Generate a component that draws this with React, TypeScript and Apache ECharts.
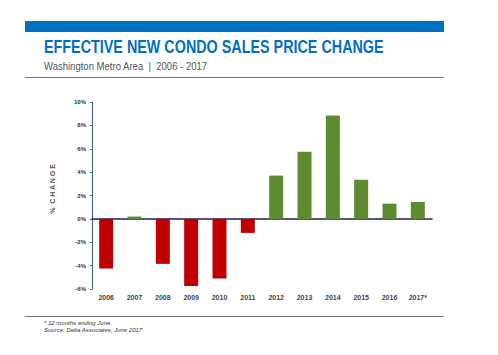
import React, { useEffect, useRef } from "react";
import * as echarts from "echarts";

const years = ["2006", "2007", "2008", "2009", "2010", "2011", "2012", "2013", "2014", "2015", "2016", "2017*"];
const priceChange = [-4.25, 0.2, -3.85, -5.75, -5.1, -1.2, 3.7, 5.75, 8.85, 3.35, 1.3, 1.45];
const yTicks = { min: -6, max: 10, interval: 2 };

const BLUE = "#0070C0";
const RED = "#C00000";
const GREEN = "#5E8B2F";
const SANS = "'Liberation Sans', Arial, sans-serif";

export default function App() {
  const ref = useRef<HTMLDivElement>(null);
  useEffect(() => {
    if (!ref.current) return;
    const chart = echarts.init(ref.current, null, { renderer: "svg" });
    chart.setOption({
      animation: false,
      backgroundColor: "#ffffff",
      grid: { left: 92, right: 66, top: 102, bottom: 66, containLabel: false, outerBoundsMode: "none" },
      xAxis: [
        {
          type: "category",
          data: years,
          axisLine: { show: true, onZero: true, lineStyle: { color: "#1c1f4f", width: 1.5 } },
          axisTick: { show: false },
          axisLabel: { show: false },
        },
        {
          type: "category",
          data: years,
          position: "bottom",
          axisLine: { show: false, onZero: false },
          axisTick: { show: false },
          axisLabel: { show: true, fontSize: 7, fontWeight: "bold", color: "#444444", fontFamily: SANS, margin: 5 },
        },
      ],
      yAxis: {
        type: "value",
        min: yTicks.min,
        max: yTicks.max,
        interval: yTicks.interval,
        splitLine: { show: false },
        axisLine: { show: true, lineStyle: { color: "#4F6B8C", width: 1.2 } },
        axisTick: { show: true, length: 2, lineStyle: { color: "#4F6B8C" } },
        axisLabel: { formatter: "{value}%", fontSize: 6, fontWeight: "bold", color: "#333333", fontFamily: SANS, margin: 6 },
      },
      series: [
        {
          type: "bar",
          xAxisIndex: 0,
          barWidth: 14,
          data: priceChange.map((v) => ({ value: v, itemStyle: { color: v < 0 ? RED : GREEN } })),
        },
      ],
      graphic: [
        { type: "rect", shape: { x: 25, y: 21, width: 419, height: 11 }, style: { fill: BLUE } },
        {
          type: "text",
          x: 44,
          y: 38,
          scaleX: 0.82,
          style: { text: "EFFECTIVE NEW CONDO SALES PRICE CHANGE", font: `bold 17.5px ${SANS}`, fill: BLUE },
        },
        {
          type: "text",
          x: 44,
          y: 60,
          scaleX: 0.83,
          style: { text: "Washington Metro Area  |  2006 - 2017", font: `11.5px ${SANS}`, fill: "#555555" },
        },
        {
          type: "text",
          x: 52,
          y: 189,
          rotation: Math.PI / 2,
          style: {
            text: "%  C H A N G E",
            font: `bold 7px ${SANS}`,
            fill: "#555555",
            align: "center",
            verticalAlign: "middle",
          },
        },
        { type: "line", shape: { x1: 25, y1: 77.5, x2: 444, y2: 77.5 }, style: { stroke: "#777777", lineWidth: 1 } },
        { type: "line", shape: { x1: 25, y1: 316.5, x2: 444, y2: 316.5 }, style: { stroke: "#777777", lineWidth: 1 } },
        {
          type: "text",
          x: 44,
          y: 320,
          style: { text: "* 12 months ending June.", font: `italic 6px ${SANS}`, fill: "#333333" },
        },
        {
          type: "text",
          x: 44,
          y: 327,
          style: { text: "Source: Delta Associates, June 2017", font: `italic 6px ${SANS}`, fill: "#333333" },
        },
      ],
    });
    return () => chart.dispose();
  }, []);
  return <div ref={ref} style={{ width: 498, height: 355, position: "absolute", left: 0, top: 0 }} />;
}
